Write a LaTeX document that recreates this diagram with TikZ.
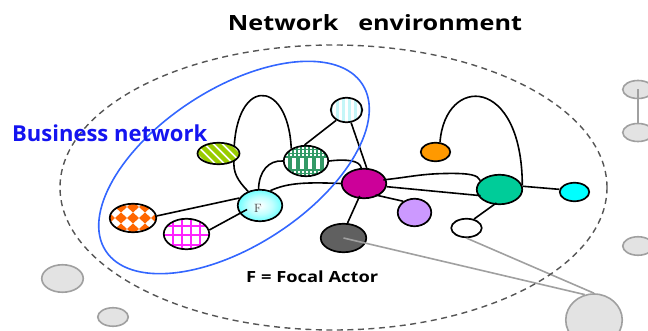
\documentclass[tikz,border=0pt]{standalone}
\usepackage{fontspec}
\newfontfamily\osans{Open Sans}
\usetikzlibrary{shapes.geometric,calc,backgrounds}
\definecolor{sgreen}{HTML}{99CC00}
\definecolor{pgreen}{HTML}{339966}
\definecolor{lcy}{HTML}{C4F6F8}
\definecolor{dorange}{HTML}{FF6600}
\definecolor{pinkg}{HTML}{FF22FF}
\definecolor{magen}{HTML}{CC0099}
\definecolor{lilac}{HTML}{CC99FF}
\definecolor{darkg}{HTML}{606060}
\definecolor{orng}{HTML}{FF9900}
\definecolor{teal2}{HTML}{00CC99}
\definecolor{cyn}{HTML}{00FFFF}
\definecolor{gfill}{HTML}{E3E3E3}
\definecolor{gline}{HTML}{A0A0A0}
\definecolor{dashc}{HTML}{555555}
\definecolor{bluel}{HTML}{3366FF}
\definecolor{bluet}{HTML}{1414F0}
\pgfdeclareradialshading{fshade}{\pgfpoint{0bp}{0bp}}{color(0bp)=(white); color(14bp)=(white!75!cyan); color(40bp)=(cyan); color(50bp)=(cyan)}
\begin{document}
\begin{tikzpicture}[x=1pt,y=-1pt,
  actor/.style={ellipse, draw=black, line width=1.7pt, inner sep=0pt},
  link/.style={line width=1.6pt, draw=black},
  into/.style={shorten >=-3pt},
  grayc/.style={ellipse, draw=gline, fill=gfill, line width=1.6pt, inner sep=0pt},
  grayl/.style={draw=gline, line width=1.6pt},
  ttl/.style={inner sep=0pt, font=\osans\bfseries}]
\useasboundingbox (0,0) rectangle (648,331);

% nodes
\node[actor, minimum width=42pt, minimum height=21.5pt, fill=white,
  path picture={\begin{scope}[shift={(path picture bounding box.center)}]
   \foreach \k in {-36,-27,...,36} \draw[sgreen, line width=4.5pt] (\k-16,-16) -- (\k+16,16);
  \end{scope}}] (st) at (218.5,153.5) {};
\node[actor, minimum width=44.5pt, minimum height=30.5pt, fill=pgreen,
  path picture={\begin{scope}[shift={(path picture bounding box.center)}]
   \foreach \x in {-20,-12,...,20} \fill[white] (\x-2.2,-3) rectangle (\x+2.2,8);
   \foreach \x in {-24,-20,...,24} \foreach \y in {-14,-10.5,-7} \fill[white] (\x,\y) rectangle (\x+2.2,\y+2.2);
   \foreach \x in {-24,-20,...,24} \foreach \y in {10,13.5} \fill[white] (\x,\y) rectangle (\x+2.2,\y+2.2);
  \end{scope}}] (pl) at (306,161) {};
\node[actor, minimum width=31.5pt, minimum height=24.5pt, fill=white,
  path picture={\begin{scope}[shift={(path picture bounding box.center)}]
   \foreach \x in {-15,-9,...,15} \fill[lcy] (\x-1.7,-15) rectangle (\x+1.7,15);
  \end{scope}}] (lc) at (346.5,110) {};
\node[actor, minimum width=46.5pt, minimum height=28.5pt, fill=white,
  path picture={\begin{scope}[shift={(path picture bounding box.center)}]
   \foreach \i in {-3,...,3} \foreach \j in {-2,...,2}
     \fill[dorange] (12*\i-6,11*\j) -- (12*\i,11*\j-5.5) -- (12*\i+6,11*\j) -- (12*\i,11*\j+5.5) -- cycle;
  \end{scope}}] (od) at (133,218) {};
\node[actor, minimum width=45.5pt, minimum height=30.5pt, fill=white,
  path picture={\begin{scope}[shift={(path picture bounding box.center)}]
   \foreach \x in {-14,-5,4,13} \draw[pinkg, line width=2pt] (\x,-20) -- (\x,20);
   \foreach \y in {-8,1.5,11} \draw[pinkg, line width=2pt] (-30,\y) -- (30,\y);
  \end{scope}}] (pk) at (186.5,234) {};
\node[actor, minimum width=44.5pt, minimum height=31.5pt, shading=fshade] (F) at (260,205.5) {};
\node[actor, minimum width=44.5pt, minimum height=29.5pt, fill=magen] (mg) at (364,183.5) {};
\node[actor, minimum width=33.5pt, minimum height=27.5pt, fill=lilac] (pu) at (414.5,212.5) {};
\node[actor, minimum width=45.5pt, minimum height=28.5pt, fill=darkg] (dk) at (343.5,238) {};
\node[actor, minimum width=29.5pt, minimum height=18.5pt, fill=orng] (or) at (435.5,152) {};
\node[actor, minimum width=45.5pt, minimum height=29.5pt, fill=teal2] (tl) at (499.5,189.5) {};
\node[actor, minimum width=29.5pt, minimum height=18.5pt, fill=cyn] (cy) at (574.5,192) {};
\node[actor, minimum width=30.5pt, minimum height=18.5pt, fill=white] (wh) at (466.5,228) {};
\node[inner sep=0pt, text=black!75, font=\fontsize{12}{12}\selectfont] (Fl) at (258,208.5) {F};

% connectors behind nodes
\begin{pgfonlayer}{background}
\draw[link] (F.130) .. controls (237,180) and (233,172) .. (234,160)
   .. controls (232,76) and (288,76) .. (pl.140);
\draw[link] (F.95) .. controls (259,172) and (268,160) .. (pl.west);
\draw[link] (od.5) -- (F.160);
\draw[link] (F.55) .. controls (287,183) and (305,182) .. (mg.west);
\draw[link] (pl.east) .. controls (345,159) and (360,160) .. (mg.100);
\draw[link] (lc.225) -- (pl.95);
\draw[link] (lc.290) -- (mg.80);
\draw[link] (or.65) .. controls (445,75) and (522,75) .. (tl.10);
\draw[link] (tl.8) -- (cy.170);
\end{pgfonlayer}

% connectors drawn over node borders
\draw[link] (pk.10) -- ([shift={(-13,4)}]F.center);
\draw[link, shorten <=-3pt] (mg.-40) -- (pu.135);
\draw[link, shorten <=-3pt] (mg.250) -- (dk.75);
\draw[link, shorten <=-3pt] (mg.10) .. controls (410,177) and (420,174) .. (445,173.5)
   .. controls (470,173) and (478,175) .. (tl.155);
\draw[link, into] (mg.-8) -- (tl.195);
\draw[link, shorten <=-3pt] (tl.250) -- (wh.50);

% gray actors outside
\node[grayc, minimum width=30.5pt, minimum height=18pt] (g1) at (638,89.5) {};
\node[grayc, minimum width=30.5pt, minimum height=18pt] (g2) at (638,132.5) {};
\node[grayc, minimum width=30.5pt, minimum height=18.5pt] (g3) at (638,246) {};
\node[grayc, minimum width=56.5pt, minimum height=52pt] (g4) at (594,320) {};
\node[grayc, minimum width=41.5pt, minimum height=27.5pt] (g5) at (62.5,278.5) {};
\node[grayc, minimum width=30.5pt, minimum height=18.5pt] (g6) at (113,317) {};
\draw[grayl] (g1.center) -- (g2.north);
\draw[grayl] (dk.center) -- (g4.110);
\draw[grayl] (wh.south) -- (g4.north);

% environment and business network
\draw[dashc, line width=1.4pt, dash pattern=on 6pt off 4.5pt] (333.5,187.5) ellipse [x radius=273.5, y radius=142.5];
\draw[bluel, line width=1.6pt, rotate around={33:(234,167.5)}] (234,167.5) ellipse [x radius=153, y radius=78.5];

% texts
\node[ttl, anchor=base, xscale=1.2, font=\osans\bfseries\fontsize{21}{24}\selectfont] (title) at (375,31) {Network\hspace{11pt} environment};
\node[ttl, anchor=base west, text=bluet, xscale=1.0, font=\osans\bfseries\fontsize{22}{24}\selectfont] (bn) at (12,141.5) {Business network};
\node[ttl, anchor=base west, xscale=1.19, font=\osans\bfseries\fontsize{15.4}{17}\selectfont] (fa) at (246,282) {F = Focal Actor};
\end{tikzpicture}
\end{document}
